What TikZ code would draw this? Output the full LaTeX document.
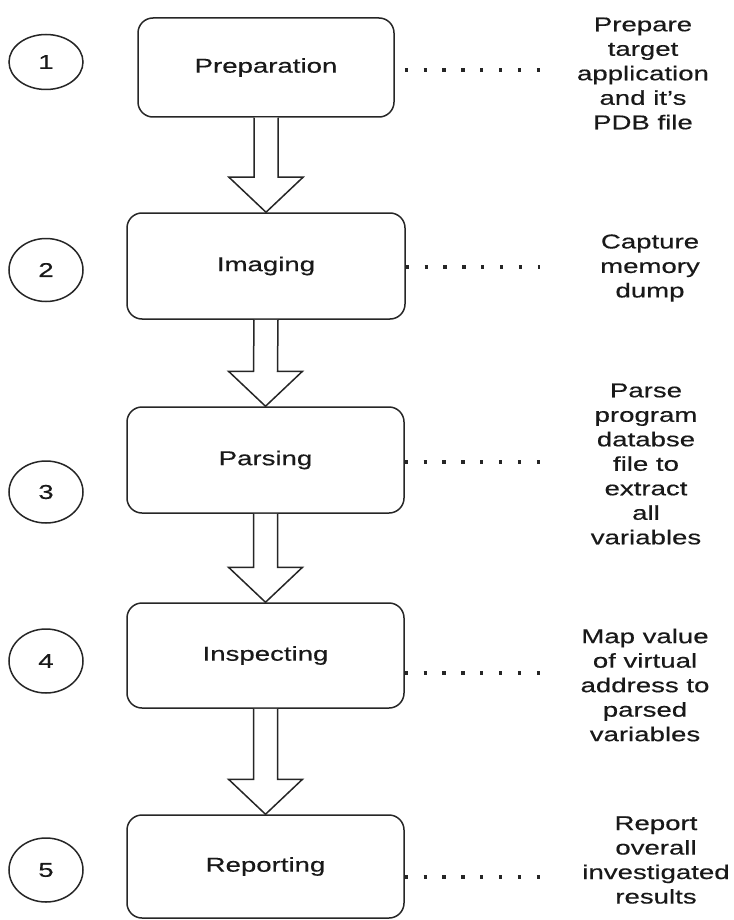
\documentclass[tikz,border=0pt]{standalone}
\usepackage{fontspec}
\setmainfont{Liberation Sans}[FakeStretch=1.38, FakeBold=0.4]
\usetikzlibrary{calc,shapes.geometric}
\tikzset{
  stepbox/.style={draw=black!85, line width=1.5pt, rounded corners=15pt, inner sep=0pt,
    font=\fontsize{20}{24.5}\selectfont, text=black!90},
  numell/.style={draw=black!85, line width=1.5pt, ellipse, inner sep=0pt, minimum width=74pt,
    font=\fontsize{20}{24.5}\selectfont, text=black!90},
  note/.style={align=center, inner sep=0pt, font=\fontsize{20}{24.5}\selectfont, text=black!90},
  dotline/.style={draw=black!85, line width=3.2pt, dash pattern=on 3.2pt off 15.66pt},
  barrow/.style={draw=black!85, line width=1.5pt, fill=white, line join=miter}
}
\begin{document}
\begin{tikzpicture}[x=1pt, y=-1pt]
\path[fill=white, use as bounding box] (0,0) rectangle (733,920);

% boxes
\node[stepbox, minimum width=256pt, minimum height=99pt] (b1) at (266,67.5) {Preparation};
\node[stepbox, minimum width=278pt, minimum height=106pt] (b2) at (266,266) {Imaging};
\node[stepbox, minimum width=277pt, minimum height=106pt] (b3) at (265.5,460) {Parsing};
\node[stepbox, minimum width=277pt, minimum height=105pt] (b4) at (265.5,655.5) {Inspecting};
\node[stepbox, minimum width=277pt, minimum height=103pt] (b5) at (265.5,866.5) {Reporting};

% number ellipses
\node[numell, minimum height=55pt] (n1) at (46,62) {1};
\node[numell, minimum height=63pt] (n2) at (46,270) {2};
\node[numell, minimum height=62pt] (n3) at (46,492) {3};
\node[numell, minimum height=64pt] (n4) at (46,661) {4};
\node[numell, minimum height=64pt] (n5) at (46,870) {5};

% notes
\node[note] (t1) at (643,73.5) {Prepare\\target\\application\\and it's\\PDB file};
\node[note] (t2) at (650,268) {Capture\\memory\\dump};
\node[note] (t3) at (646,464) {Parse\\program\\databse\\file to\\extract\\all\\variables};
\node[note] (t4) at (645,685) {Map value\\of virtual\\address to\\parsed\\variables};
\node[note] (t5) at (656,860) {Report\\overall\\investigated\\results};

% dotted connectors
\coordinate (d1) at (540,70);
\coordinate (d2) at (540,267);
\coordinate (d3) at (540,462);
\coordinate (d4) at (540,673);
\coordinate (d5) at (540,877);
\draw[dotline] ($(b1.east |- d1)+(10,0)$) -- (d1);
\draw[dotline] (b2.east |- d2) -- (d2);
\draw[dotline] (b3.east |- d3) -- (d3);
\draw[dotline] (b4.east |- d4) -- (d4);
\draw[dotline] (b5.east |- d5) -- (d5);

% block arrows
\foreach \a/\b in {b1/b2, b2/b3, b3/b4, b4/b5}{
  \draw[barrow] ($(\a.south)+(-12,0)$) -- ($(\b.north)+(-12,-35)$) -- ($(\b.north)+(-37,-35)$)
    -- (\b.north) -- ($(\b.north)+(37,-35)$) -- ($(\b.north)+(12,-35)$) -- ($(\a.south)+(12,0)$);
}
\end{tikzpicture}
\end{document}
